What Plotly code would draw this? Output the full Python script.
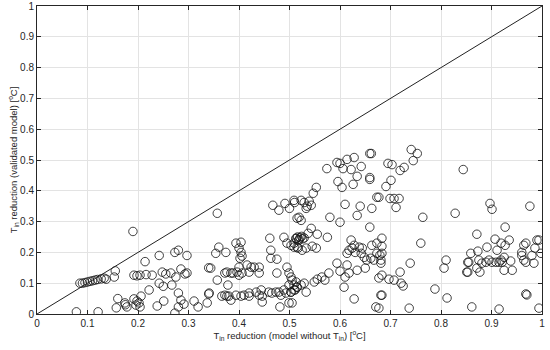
import plotly.graph_objects as go

# x: T_in reduction (model without T_in), y: T_in reduction (validated model)
x_vals = [
    # near-diagonal cluster
    0.085, 0.09, 0.095, 0.1, 0.105, 0.11, 0.115, 0.12, 0.127, 0.133, 0.137, 0.155, 0.153, 0.16, 0.157, 0.175, 0.078, 0.121,
    # 0.17-0.34
    0.19, 0.214, 0.242, 0.273, 0.28, 0.297, 0.34, 0.192, 0.198, 0.204, 0.216, 0.228, 0.248,
    0.255, 0.265, 0.275, 0.285, 0.293, 0.297, 0.242, 0.25, 0.267, 0.222, 0.206,
    0.192, 0.198, 0.202, 0.196, 0.204, 0.178, 0.174, 0.238, 0.251, 0.28, 0.285, 0.291, 0.28, 0.273,
    0.311, 0.319, 0.337, 0.34,
    # 0.34-0.52
    0.357, 0.467, 0.479, 0.491, 0.5, 0.51, 0.515, 0.461, 0.489, 0.495, 0.503, 0.513, 0.509, 0.515,
    0.463, 0.463, 0.475, 0.475, 0.495, 0.499, 0.503, 0.505, 0.499, 0.509, 0.513, 0.503, 0.505, 0.499, 0.481,
    0.36, 0.354, 0.374, 0.394, 0.404, 0.4, 0.404, 0.402, 0.406, 0.344,
    0.372, 0.376, 0.384, 0.388, 0.396, 0.4, 0.406, 0.416, 0.424, 0.43, 0.44, 0.42, 0.44, 0.4,
    0.357, 0.378, 0.341,
    0.366, 0.372, 0.376, 0.38, 0.384, 0.394, 0.404, 0.41, 0.42, 0.42, 0.434, 0.444, 0.44, 0.446, 0.446,
    0.459, 0.465, 0.473, 0.479, 0.489, 0.483, 0.493, 0.503, 0.511, 0.515,
    # 0.5-0.68
    0.659, 0.662, 0.594, 0.6, 0.614, 0.628, 0.574, 0.606, 0.622, 0.642, 0.634, 0.659, 0.659, 0.596, 0.604, 0.626,
    0.553, 0.547, 0.673, 0.523, 0.529, 0.539, 0.535, 0.533, 0.543, 0.509, 0.61, 0.64, 0.663, 0.634, 0.58, 0.6,
    0.519, 0.523, 0.659,
    0.513, 0.516, 0.519, 0.521, 0.524, 0.526, 0.529, 0.518,
    0.543, 0.537, 0.555, 0.575,
    0.509, 0.517, 0.525, 0.533, 0.545, 0.553,
    0.622, 0.628, 0.624, 0.638, 0.644, 0.618, 0.614, 0.63, 0.642, 0.648, 0.653, 0.661, 0.663, 0.673, 0.673, 0.679, 0.681, 0.667,
    0.594, 0.6, 0.614, 0.618, 0.634, 0.65, 0.61, 0.578,
    0.564, 0.57, 0.555, 0.549, 0.529, 0.523, 0.533, 0.515, 0.509,
    0.608, 0.628, 0.671, 0.681,
    # 0.68-0.86
    0.741, 0.753, 0.745, 0.695, 0.703, 0.719, 0.727, 0.701, 0.691, 0.844, 0.677, 0.699, 0.707, 0.717, 0.711,
    0.764, 0.828, 0.76,
    0.683, 0.683, 0.683, 0.681, 0.683, 0.677, 0.683, 0.677,
    0.739, 0.719, 0.697, 0.707, 0.721, 0.725, 0.737, 0.788, 0.812, 0.81, 0.806, 0.853, 0.851,
    # 0.86-1
    0.897, 0.901, 0.976, 0.927, 0.871, 0.907, 0.919, 0.927, 0.935, 0.859, 0.873, 0.891, 0.911, 0.925,
    0.855, 0.853, 0.875, 0.871, 0.877, 0.881, 0.889, 0.895, 0.901, 0.909, 0.915, 0.919, 0.921, 0.938, 0.925, 0.941,
    0.96, 0.964, 0.968, 0.96, 0.964, 0.968, 0.98, 0.986, 0.99, 0.994, 0.998, 0.984,
    0.968, 0.97, 0.861, 0.915, 0.994,
]
y_vals = [
    0.1, 0.1, 0.102, 0.104, 0.106, 0.108, 0.11, 0.112, 0.114, 0.116, 0.113, 0.14, 0.12, 0.05, 0.02, 0.03, 0.007, 0.007,
    0.268, 0.17, 0.19, 0.2, 0.207, 0.19, 0.15, 0.126, 0.124, 0.126, 0.128, 0.126, 0.136,
    0.13, 0.133, 0.12, 0.146, 0.13, 0.133, 0.1, 0.09, 0.094, 0.078, 0.058,
    0.049, 0.042, 0.036, 0.029, 0.023, 0.023, 0.036, 0.026, 0.042, 0.068, 0.045, 0.032, 0.023, 0.003,
    0.042, 0.023, 0.036, 0.065,
    0.327, 0.353, 0.337, 0.359, 0.343, 0.362, 0.311, 0.246, 0.249, 0.23, 0.223, 0.246, 0.23, 0.217,
    0.207, 0.181, 0.178, 0.133, 0.152, 0.133, 0.12, 0.11, 0.094, 0.094, 0.104, 0.071, 0.036, 0.036, 0.023,
    0.217, 0.197, 0.2, 0.23, 0.233, 0.214, 0.2, 0.181, 0.188, 0.149,
    0.133, 0.136, 0.133, 0.133, 0.136, 0.126, 0.133, 0.159, 0.152, 0.152, 0.152, 0.136, 0.133, 0.152,
    0.11, 0.094, 0.068,
    0.058, 0.061, 0.058, 0.058, 0.045, 0.061, 0.058, 0.061, 0.058, 0.068, 0.071, 0.078, 0.061, 0.058, 0.039,
    0.071, 0.068, 0.071, 0.071, 0.078, 0.061, 0.068, 0.071, 0.078, 0.087,
    0.521, 0.521, 0.492, 0.489, 0.502, 0.508, 0.472, 0.472, 0.469, 0.479, 0.447, 0.437, 0.443, 0.43, 0.411, 0.421,
    0.411, 0.392, 0.379, 0.369, 0.362, 0.366, 0.35, 0.343, 0.353, 0.369, 0.356, 0.35, 0.343, 0.32, 0.314, 0.298,
    0.314, 0.304, 0.282,
    0.245, 0.25, 0.242, 0.248, 0.252, 0.244, 0.247, 0.238,
    0.278, 0.262, 0.259, 0.249,
    0.217, 0.214, 0.207, 0.214, 0.22, 0.214,
    0.24, 0.223, 0.214, 0.217, 0.214, 0.207, 0.197, 0.2, 0.197, 0.184, 0.175, 0.181, 0.223, 0.23, 0.197, 0.191, 0.175, 0.175,
    0.165, 0.139, 0.159, 0.133, 0.142, 0.149, 0.12, 0.133,
    0.12, 0.11, 0.113, 0.104, 0.1, 0.094, 0.071, 0.087, 0.078,
    0.087, 0.049, 0.023, 0.061,
    0.534, 0.521, 0.498, 0.489, 0.485, 0.466, 0.476, 0.434, 0.414, 0.469, 0.379, 0.375, 0.375, 0.375, 0.346,
    0.314, 0.327, 0.23,
    0.246, 0.22, 0.197, 0.165, 0.126, 0.117, 0.061, 0.019,
    0.165, 0.136, 0.113, 0.11, 0.1, 0.091, 0.019, 0.081, 0.052, 0.175, 0.149, 0.168, 0.136,
    0.359, 0.34, 0.35, 0.282, 0.259, 0.243, 0.23, 0.223, 0.24, 0.197, 0.204, 0.217, 0.207, 0.184,
    0.168, 0.136, 0.175, 0.149, 0.136, 0.165, 0.168, 0.175, 0.168, 0.168, 0.168, 0.175, 0.168, 0.172, 0.142, 0.142,
    0.2, 0.223, 0.23, 0.19, 0.175, 0.168, 0.19, 0.214, 0.24, 0.24, 0.197, 0.165,
    0.065, 0.062, 0.023, 0.016, 0.019,
]

diag = [0, 1]
tick_vals = [round(i * 0.1, 1) for i in range(11)]
tick_text = ["0", "0.1", "0.2", "0.3", "0.4", "0.5", "0.6", "0.7", "0.8", "0.9", "1"]

fig = go.Figure()
fig.add_trace(go.Scatter(x=x_vals, y=y_vals, mode="markers",
                         marker=dict(symbol="circle-open", size=8.5, color="#111111", line=dict(width=0.8)),
                         showlegend=False, hoverinfo="skip"))
fig.add_trace(go.Scatter(x=diag, y=diag, mode="lines", line=dict(color="#222222", width=1),
                         showlegend=False, hoverinfo="skip"))

axis_common = dict(range=[0, 1], tickvals=tick_vals, ticktext=tick_text, showgrid=True,
                   gridcolor="#e3e3e3", gridwidth=1, zeroline=False, showline=True,
                   linecolor="#262626", linewidth=1, mirror="ticks", ticks="inside",
                   ticklen=4, tickcolor="#262626", tickfont=dict(size=10, color="#262626"),
                   automargin=False)

fig.update_layout(
    width=550, height=350,
    margin=dict(l=37, r=8, t=6, b=36),
    paper_bgcolor="white", plot_bgcolor="white",
    font=dict(family="Liberation Sans, Arial, sans-serif", color="#262626", size=10),
    xaxis=dict(**axis_common,
               title=dict(text="T<sub>in</sub> reduction (model without T<sub>in</sub>) [<sup>o</sup>C]",
                          font=dict(size=9.5), standoff=2)),
    yaxis=dict(**axis_common,
               title=dict(text="T<sub>in</sub> reduction (validated model) [<sup>o</sup>C]",
                          font=dict(size=9.5), standoff=0)),
)

fig.write_html("out.html", config={"displayModeBar": False},
               post_script="document.body.style.margin='0';document.body.style.overflow='hidden';")
